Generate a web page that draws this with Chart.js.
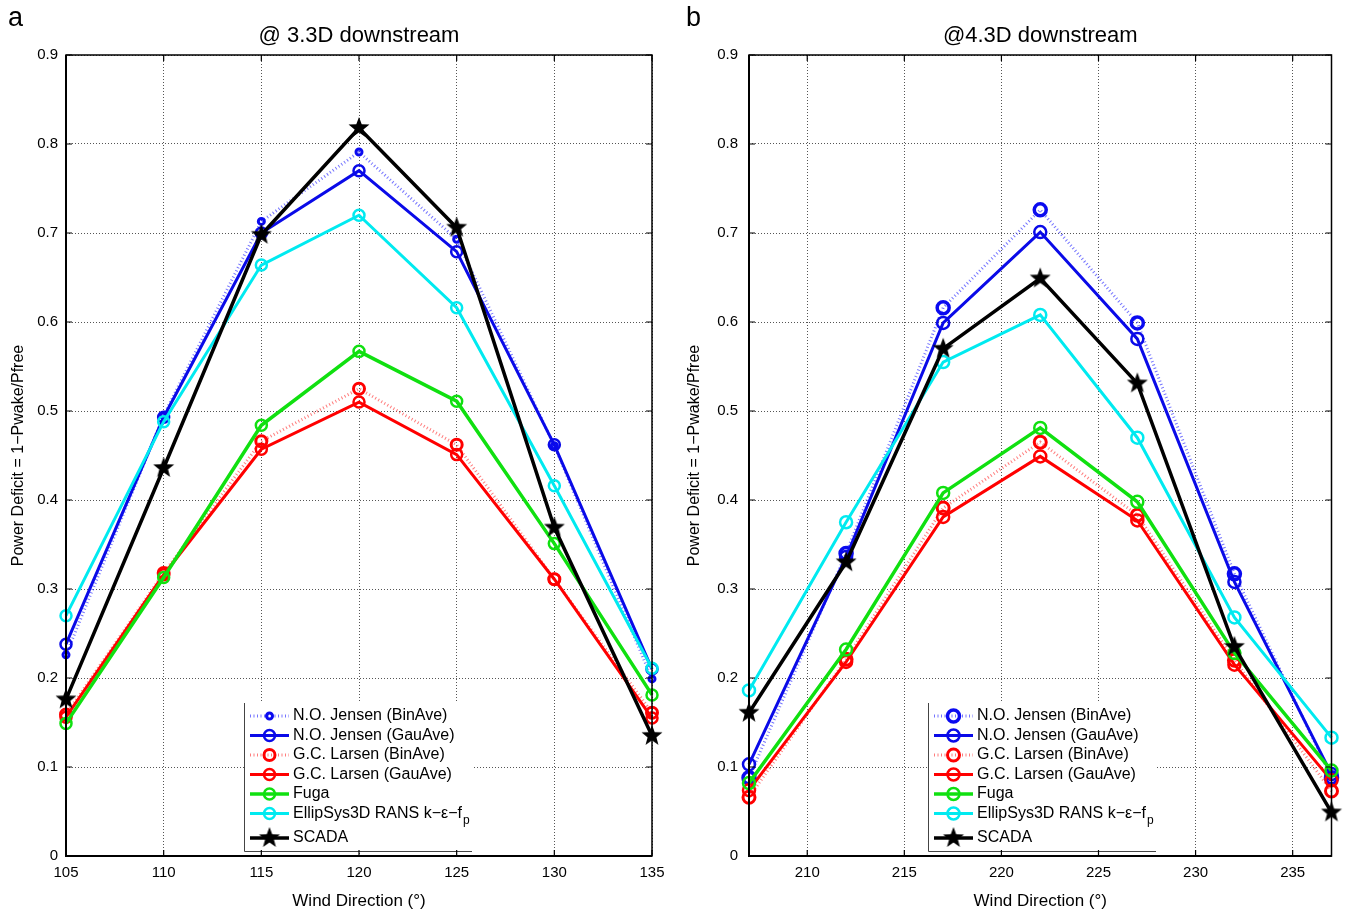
<!DOCTYPE html>
<html>
<head>
<meta charset="utf-8">
<script src="https://cdn.jsdelivr.net/npm/chart.js@4.4.1/dist/chart.umd.min.js"></script>
<style>
  html, body { margin: 0; padding: 0; background: #fff; }
  #wrap { position: relative; width: 1346px; height: 912px; }
  .panel { position: absolute; top: 0; width: 673px; height: 912px; }
  #pa { left: 0; }
  #pb { left: 673px; }
</style>
</head>
<body>
<div id="wrap">
  <div class="panel" id="pa"><canvas id="chartA" width="673" height="912"></canvas></div>
  <div class="panel" id="pb"><canvas id="chartB" width="673" height="912"></canvas></div>
</div>
<script>
const NAMES = [
  'N.O. Jensen (BinAve)',
  'N.O. Jensen (GauAve)',
  'G.C. Larsen (BinAve)',
  'G.C. Larsen (GauAve)',
  'Fuga',
  'EllipSys3D RANS k\u2212\u03b5\u2212f',
  'SCADA'
];

const Y_TICKS = [0, 0.1, 0.2, 0.3, 0.4, 0.5, 0.6, 0.7, 0.8, 0.9];
const X_TICKS_A = [105, 110, 115, 120, 125, 130, 135];
const X_TICKS_B = [210, 215, 220, 225, 230, 235];

// (a) @ 3.3D downstream
const DIR_A = [105, 110, 115, 120, 125, 130, 135];
const JENSEN_BIN_A = [0.226, 0.495, 0.713, 0.791, 0.693, 0.461, 0.199];
const JENSEN_GAU_A = [0.238, 0.493, 0.700, 0.770, 0.679, 0.462, 0.210];
const LARSEN_BIN_A = [0.159, 0.318, 0.466, 0.525, 0.462, 0.311, 0.161];
const LARSEN_GAU_A = [0.156, 0.316, 0.457, 0.510, 0.451, 0.311, 0.155];
const FUGA_A = [0.149, 0.313, 0.484, 0.567, 0.511, 0.351, 0.181];
const ELLIP_A = [0.270, 0.488, 0.664, 0.720, 0.616, 0.416, 0.211];
const SCADA_A = [0.176, 0.436, 0.698, 0.818, 0.706, 0.369, 0.135];

// (b) @ 4.3D downstream
const DIR_B = [207, 212, 217, 222, 227, 232, 237];
const JENSEN_BIN_B = [0.088, 0.340, 0.616, 0.726, 0.599, 0.317, 0.088];
const JENSEN_GAU_B = [0.103, 0.336, 0.599, 0.701, 0.581, 0.308, 0.092];
const LARSEN_BIN_B = [0.066, 0.221, 0.391, 0.465, 0.383, 0.220, 0.073];
const LARSEN_GAU_B = [0.074, 0.218, 0.381, 0.449, 0.377, 0.215, 0.085];
const FUGA_B = [0.082, 0.232, 0.408, 0.481, 0.398, 0.228, 0.096];
const ELLIP_B = [0.186, 0.375, 0.555, 0.608, 0.470, 0.268, 0.133];
const SCADA_B = [0.161, 0.330, 0.570, 0.649, 0.531, 0.235, 0.049];

const FONT = "'Liberation Sans', Arial, sans-serif";
Chart.defaults.font.family = FONT;
Chart.defaults.color = '#000';

function starImage(r) {
  const c = document.createElement('canvas');
  const s = Math.ceil(r * 2 + 2);
  c.width = s; c.height = s;
  const g = c.getContext('2d');
  g.fillStyle = '#000';
  g.beginPath();
  for (let i = 0; i < 10; i++) {
    const rad = i % 2 ? r * 0.42 : r;
    const a = -Math.PI / 2 + i * Math.PI / 5;
    g.lineTo(s / 2 + rad * Math.cos(a), s / 2 + rad * Math.sin(a));
  }
  g.closePath();
  g.fill();
  return c;
}
const STAR = starImage(11);

function pts(dirs, vals) {
  return dirs.map((d, i) => ({ x: d, y: vals[i] }));
}

function buildDatasets(dirs, sets, m) {
  const list = [
    { data: pts(dirs, sets[0]), borderColor: 'rgba(70,70,255,0.75)', borderDash: [1, 2.5], borderWidth: 3,
      pointBorderColor: '#0a0af0', pointRadius: m.binR, pointBorderWidth: m.binW },
    { data: pts(dirs, sets[1]), borderColor: '#0a0ae8', borderWidth: 3,
      pointBorderColor: '#0a0ae8', pointRadius: m.r, pointBorderWidth: 2.5 },
    { data: pts(dirs, sets[2]), borderColor: 'rgba(255,80,80,0.75)', borderDash: [1, 2.5], borderWidth: 3,
      pointBorderColor: '#ff0000', pointRadius: m.r2, pointBorderWidth: 3 },
    { data: pts(dirs, sets[3]), borderColor: '#ff0000', borderWidth: 3,
      pointBorderColor: '#ff0000', pointRadius: m.r, pointBorderWidth: 2.5 },
    { data: pts(dirs, sets[4]), borderColor: '#10e010', borderWidth: 3.5,
      pointBorderColor: '#10e010', pointRadius: m.r, pointBorderWidth: 2.5 },
    { data: pts(dirs, sets[5]), borderColor: '#00eaf0', borderWidth: 3,
      pointBorderColor: '#00eaf0', pointRadius: m.r, pointBorderWidth: 2.5 },
    { data: pts(dirs, sets[6]), borderColor: '#000', borderWidth: 3.5,
      pointStyle: STAR, pointRadius: 11 }
  ];
  return list.map((d, i) => Object.assign({
    label: NAMES[i],
    pointStyle: 'circle',
    pointBackgroundColor: 'rgba(0,0,0,0)',
    pointHoverRadius: d.pointRadius,
    tension: 0,
    clip: false,
    order: 6 - i
  }, d));
}

const deco = {
  id: 'deco',
  afterDraw(chart, args, o) {
    const { ctx, chartArea: a, scales: { x, y } } = chart;
    ctx.save();

    // legend box
    const lx = o.legendX, ly = 703, lw = 228, lh = 148;
    ctx.fillStyle = '#fff';
    ctx.fillRect(lx, ly, lw, lh);
    ctx.strokeStyle = '#444';
    ctx.lineWidth = 1;
    ctx.beginPath();
    ctx.moveTo(lx + 0.5, ly);
    ctx.lineTo(lx + 0.5, ly + lh + 0.5);
    ctx.lineTo(lx + lw, ly + lh + 0.5);
    ctx.stroke();

    chart.data.datasets.forEach((ds, i) => {
      const cy = i < 6 ? 716 + i * 19.5 : 838;
      const x0 = lx + 6, x1 = lx + 45, xm = (x0 + x1) / 2;
      ctx.strokeStyle = ds.borderColor;
      ctx.lineWidth = ds.borderWidth;
      ctx.setLineDash(ds.borderDash || []);
      ctx.beginPath();
      ctx.moveTo(x0, cy);
      ctx.lineTo(x1, cy);
      ctx.stroke();
      ctx.setLineDash([]);
      if (ds.pointStyle === 'circle') {
        ctx.strokeStyle = ds.pointBorderColor;
        ctx.lineWidth = ds.pointBorderWidth;
        ctx.beginPath();
        ctx.arc(xm, cy, ds.pointRadius, 0, Math.PI * 2);
        ctx.stroke();
      } else {
        ctx.drawImage(ds.pointStyle, xm - ds.pointStyle.width / 2, cy - ds.pointStyle.height / 2);
      }
      ctx.fillStyle = '#000';
      ctx.font = '16px ' + FONT;
      ctx.textBaseline = 'middle';
      ctx.textAlign = 'left';
      ctx.fillText(ds.label, lx + 49, cy);
      if (i === 5) {
        const w = ctx.measureText(ds.label).width;
        ctx.font = '12px ' + FONT;
        ctx.fillText('p', lx + 49 + w + 1, cy + 7);
      }
    });

    // axes frame with inner ticks
    ctx.strokeStyle = '#000';
    ctx.lineWidth = 1.5;
    ctx.strokeRect(a.left, a.top, a.right - a.left, a.bottom - a.top);
    ctx.lineWidth = 2;
    ctx.beginPath();
    ctx.moveTo(a.left, a.top);
    ctx.lineTo(a.left, a.bottom);
    ctx.lineTo(a.right, a.bottom);
    ctx.stroke();
    ctx.lineWidth = 1.2;
    ctx.beginPath();
    x.ticks.forEach(t => {
      const px = x.getPixelForValue(t.value);
      ctx.moveTo(px, a.bottom); ctx.lineTo(px, a.bottom - 6);
      ctx.moveTo(px, a.top); ctx.lineTo(px, a.top + 6);
    });
    y.ticks.forEach(t => {
      const py = y.getPixelForValue(t.value);
      ctx.moveTo(a.left, py); ctx.lineTo(a.left + 6, py);
      ctx.moveTo(a.right, py); ctx.lineTo(a.right - 6, py);
    });
    ctx.stroke();

    // titles
    ctx.fillStyle = '#000';
    ctx.textBaseline = 'middle';
    ctx.textAlign = 'center';
    ctx.font = '22px ' + FONT;
    ctx.fillText(o.title, (a.left + a.right) / 2, 36);
    ctx.textAlign = 'left';
    ctx.font = '27px ' + FONT;
    ctx.fillText(o.letter, o.letterX, 19);
    ctx.restore();
  }
};

function makeChart(id, cfg) {
  return new Chart(document.getElementById(id), {
    type: 'line',
    data: { datasets: cfg.datasets },
    options: {
      responsive: false,
      animation: false,
      layout: { padding: { left: 0, right: cfg.padRight, top: 55, bottom: 0 } },
      plugins: {
        legend: { display: false },
        tooltip: { enabled: false },
        deco: cfg.deco
      },
      scales: {
        x: {
          type: 'linear',
          min: cfg.xMin,
          max: cfg.xMax,
          afterBuildTicks: s => { s.ticks = cfg.xTicks.map(v => ({ value: v })); },
          afterFit: s => { s.height = 56; },
          ticks: { font: { size: 15 }, padding: 8, maxRotation: 0, autoSkip: false, callback: v => String(v) },
          grid: { color: '#555', lineWidth: 1, drawTicks: false },
          border: { display: false, dash: [1, 2] },
          title: { display: true, text: 'Wind Direction (\u00b0)', font: { size: 17 }, padding: { top: 0, bottom: 0 } }
        },
        y: {
          min: 0,
          max: 0.9,
          afterBuildTicks: s => { s.ticks = Y_TICKS.map(v => ({ value: v })); },
          afterFit: s => { s.width = cfg.yWidth; },
          ticks: { font: { size: 15 }, padding: cfg.yTickPad, callback: v => String(v) },
          grid: { color: '#555', lineWidth: 1, drawTicks: false },
          border: { display: false, dash: [1, 2] },
          title: { display: true, text: 'Power Deficit = 1\u2212Pwake/Pfree', font: { size: 16 }, padding: { top: cfg.yTitlePad, bottom: 0 } }
        }
      }
    },
    plugins: [deco]
  });
}

makeChart('chartA', {
  datasets: buildDatasets(DIR_A, [JENSEN_BIN_A, JENSEN_GAU_A, LARSEN_BIN_A, LARSEN_GAU_A, FUGA_A, ELLIP_A, SCADA_A],
    { binR: 3, binW: 3, r: 5.5, r2: 5.5 }),
  xMin: 105, xMax: 135, xTicks: X_TICKS_A,
  padRight: 21, yWidth: 66, yTickPad: 8, yTitlePad: 9,
  deco: { title: '@ 3.3D downstream', letter: 'a', letterX: 8, legendX: 244 }
});

makeChart('chartB', {
  datasets: buildDatasets(DIR_B, [JENSEN_BIN_B, JENSEN_GAU_B, LARSEN_BIN_B, LARSEN_GAU_B, FUGA_B, ELLIP_B, SCADA_B],
    { binR: 6, binW: 3.5, r: 6, r2: 6 }),
  xMin: 207, xMax: 237, xTicks: X_TICKS_B,
  padRight: 10, yWidth: 76, yTickPad: 11, yTitlePad: 12,
  deco: { title: '@4.3D downstream', letter: 'b', letterX: 13, legendX: 255 }
});
</script>
</body>
</html>
